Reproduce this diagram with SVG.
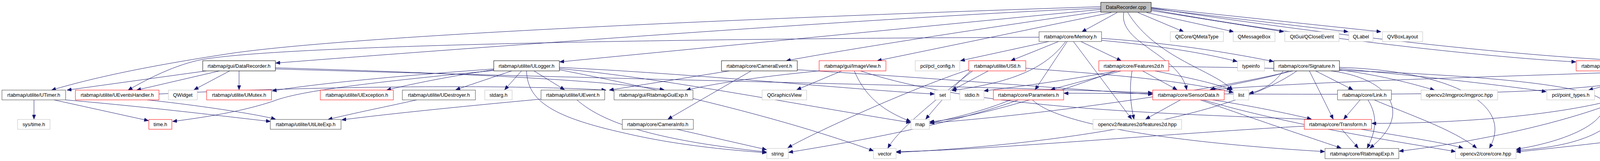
<svg xmlns="http://www.w3.org/2000/svg" width="4788" height="411" viewBox="0 0 4788 411">
<style>
rect{fill:#fff;stroke-width:1}
.n rect{stroke:#000}
.d rect{stroke:#404040}
.g rect{stroke:#bfbfbf}
.r rect{stroke:#ff0000}
.root rect{fill:#bfbfbf;stroke:#000}
text{font-family:"Liberation Sans",Arial,sans-serif;font-size:12.8px;fill:#000;text-anchor:middle}
#edges path{fill:none;stroke:#191970;stroke-width:1;marker-end:url(#ah)}
</style>
<defs>
<marker id="ah" markerUnits="userSpaceOnUse" markerWidth="12" markerHeight="9" refX="11" refY="4.5" orient="auto">
<path d="M0,0 L11,4.5 L0,9 z" fill="#191970" stroke="#191970" stroke-width="1"/>
</marker>
</defs>
<rect x="0" y="0" width="4788" height="411" style="fill:#fff;stroke:none"/>
<g id="edges">
<!-- DataRecorder.cpp -->
<path d="M2818,21 C2300,40 1000,138 706,161"/>
<path d="M2818,17 C2300,34 1000,80 600,135 C400,165 250,195 132,230"/>
<path d="M2818,24 L1433,158"/>
<path d="M2818,29 C2600,60 2200,120 2013,155"/>
<path d="M2845,32 L2246,155"/>
<path d="M2860,32 L2770,81"/>
<path d="M2913,32 L3030,81"/>
<path d="M2935,32 L3158,81"/>
<path d="M2947,27 L3286,81"/>
<path d="M2947,22 L3451,81"/>
<path d="M2947,19 L3535,81"/>
<path d="M2877,32 C2862,110 3020,140 3038,229"/>
<path d="M2887,32 C2960,150 3110,180 3155,230"/>
<path d="M2947,24 C3300,90 3800,146 4034,158"/>
<path d="M2947,20 C3400,90 3900,146 4225,158"/>
<!-- Memory.h -->
<path d="M2685,106 L2459,155"/>
<path d="M2710,106 L2588,155"/>
<path d="M2728,106 C2680,170 2600,210 2437,231"/>
<path d="M2732,106 L2650,229"/>
<path d="M2767,106 L2870,155"/>
<path d="M2748,106 L2897,304"/>
<path d="M2820,103 C3000,120 3100,140 3167,157"/>
<path d="M2820,98 C3000,110 3150,135 3260,157"/>
<path d="M2660,95 C1500,100 700,120 517,152 C450,165 380,200 328,230"/>
<!-- Signature.h -->
<path d="M3368,181 L3463,229"/>
<path d="M3352,181 L3413,304"/>
<path d="M3407,181 C3560,200 3620,290 3507,378"/>
<path d="M3300,181 C3250,200 3150,215 3098,229"/>
<path d="M3285,181 C3260,215 3230,232 3198,238"/>
<path d="M3429,172 C3700,180 3880,260 3813,378"/>
<path d="M3429,178 C3550,195 3620,215 3672,230"/>
<path d="M3429,175 C3700,200 3900,225 3958,234"/>
<path d="M3310,181 C3100,230 2700,290 2381,314"/>
<path d="M3320,181 C3150,300 2700,370 2295,389"/>
<!-- Link.h -->
<path d="M3482,255 L3440,304"/>
<path d="M3502,255 C3530,300 3520,340 3500,378"/>
<path d="M3518,255 C3600,290 3720,330 3780,378"/>
<!-- Transform.h -->
<path d="M3435,330 L3477,378"/>
<path d="M3485,330 C3600,350 3700,365 3745,378"/>
<path d="M3339,322 C3000,340 2500,385 2295,387"/>
<!-- SensorData.h -->
<path d="M3022,255 L2933,304"/>
<path d="M3073,255 C3200,300 3350,350 3433,378"/>
<path d="M3080,255 C3300,320 3600,365 3726,387"/>
<path d="M3105,255 C3200,270 3300,290 3357,304"/>
<!-- Features2d.h -->
<path d="M2925,181 L3013,229"/>
<path d="M2898,181 C2890,230 2895,270 2903,304"/>
<path d="M2957,181 C3050,200 3120,215 3152,230"/>
<path d="M2860,181 C2700,210 2600,222 2519,232"/>
<path d="M2870,181 C2800,200 2740,215 2690,229"/>
<path d="M2992,170 C3500,175 4110,200 4108,267 C4105,320 4000,362 3882,381"/>
<path d="M2855,181 C2700,240 2500,300 2380,311"/>
<!-- Parameters.h -->
<path d="M2587,255 C2500,290 2420,305 2380,315"/>
<path d="M2607,255 C2400,330 2100,375 2019,389"/>
<path d="M2643,255 C2720,330 3100,370 3391,387"/>
<!-- UStl.h -->
<path d="M2530,181 L2438,230"/>
<path d="M2626,174 C2800,188 3000,200 3157,236"/>
<path d="M2485,181 C2440,220 2390,280 2370,304"/>
<path d="M2490,181 C2400,250 2300,330 2273,378"/>
<path d="M2480,178 C2350,220 2100,330 2017,377"/>
<!-- util3d.h -->
<path d="M4253,181 L4067,230"/>
<path d="M4318,181 L4393,230"/>
<path d="M4340,181 L4512,230"/>
<path d="M4360,181 L4633,230"/>
<path d="M4371,171 C4600,175 4790,210 4782,243 C4775,280 4300,345 3882,388"/>
<path d="M4230,181 C3900,195 3400,205 3100,229"/>
<path d="M4293,181 C4200,280 3800,315 3512,315"/>
<path d="M4278,181 C4100,255 3500,240 2724,238"/>
<path d="M4288,181 C4150,290 3800,360 3582,386"/>
<!-- UCv2Qt.h -->
<path d="M4125,181 C4200,300 4100,370 3882,384"/>
<!-- ULogger.h -->
<path d="M1335,181 L1292,229"/>
<path d="M1367,181 L1445,229"/>
<path d="M1264,176 C1000,195 800,215 697,232"/>
<path d="M1310,181 L1167,229"/>
<path d="M1264,178 C1150,195 1050,215 990,230"/>
<path d="M1264,180 C900,215 760,235 700,258 C620,285 520,300 442,310"/>
<path d="M1348,181 C1350,260 1420,300 1600,340 C1750,375 1900,385 1962,390"/>
<path d="M1432,175 C1700,200 2000,260 2331,313"/>
<path d="M1432,178 C1700,230 2000,300 2236,385"/>
<path d="M1432,172 C1800,190 2200,230 2392,240"/>
<!-- UEvent.h -->
<path d="M1385,253 C1200,270 1000,290 875,306"/>
<path d="M1477,255 C1550,320 1700,360 1962,388"/>
<!-- UDestroyer / UTimer / UEventsHandler -->
<path d="M1067,255 C1000,270 900,290 840,305"/>
<path d="M168,255 C400,275 600,300 692,310"/>
<path d="M138,255 L380,308"/>
<path d="M87,255 L87,304"/>
<path d="M377,255 C500,268 650,290 705,304"/>
<path d="M407,240 C800,220 1300,215 1551,230"/>
<!-- DataRecorder.h -->
<path d="M528,181 L172,230"/>
<path d="M562,181 L350,230"/>
<path d="M588,181 L497,229"/>
<path d="M612,181 L612,229"/>
<path d="M705,173 C1100,185 1500,200 1700,229"/>
<path d="M705,176 C1500,200 2500,220 2950,237"/>
<!-- CameraEvent.h / CameraInfo.h -->
<path d="M1923,181 L1710,304"/>
<path d="M1867,181 L1560,230"/>
<path d="M2041,178 C2400,200 2700,225 2950,241"/>
<path d="M1733,330 L1962,382"/>
<!-- ImageView.h -->
<path d="M2155,181 L2040,229"/>
<path d="M2187,181 C2220,260 2280,290 2331,310"/>
<path d="M2097,181 C1900,200 1800,220 1757,230"/>
<path d="M2203,181 C2500,280 3000,290 3357,305"/>
</g>
<g id="n-cpp" class="root"><rect x="2818" y="6" width="129" height="25"/><text x="2882.5" y="23">DataRecorder.cpp</text></g>
<g id="n-memory" class="d"><rect x="2660" y="81" width="160" height="25"/><text x="2740" y="98">rtabmap/core/Memory.h</text></g>
<g id="n-qmetatype" class="g"><rect x="2996" y="81" width="136" height="25"/><text x="3064" y="98">QtCore/QMetaType</text></g>
<g id="n-qmessagebox" class="g"><rect x="3157" y="81" width="107" height="25"/><text x="3210.5" y="98">QMessageBox</text></g>
<g id="n-qcloseevent" class="g"><rect x="3289" y="81" width="139" height="25"/><text x="3358.5" y="98">QtGui/QCloseEvent</text></g>
<g id="n-qlabel" class="g"><rect x="3453" y="81" width="62" height="25"/><text x="3484" y="98">QLabel</text></g>
<g id="n-qvboxlayout" class="g"><rect x="3539" y="81" width="103" height="25"/><text x="3590.5" y="98">QVBoxLayout</text></g>
<g id="n-datarecorderh" class="n"><rect x="519" y="155" width="186" height="26"/><text x="612" y="172.5">rtabmap/gui/DataRecorder.h</text></g>
<g id="n-ulogger" class="n"><rect x="1264" y="155" width="168" height="26"/><text x="1348" y="172.5">rtabmap/utilite/ULogger.h</text></g>
<g id="n-cameraevent" class="n"><rect x="1847" y="155" width="194" height="26"/><text x="1944" y="172.5">rtabmap/core/CameraEvent.h</text></g>
<g id="n-imageview" class="r"><rect x="2097" y="155" width="171" height="26"/><text x="2182.5" y="172.5">rtabmap/gui/ImageView.h</text></g>
<g id="n-pclconfig" class="g"><rect x="2343" y="155" width="114" height="26"/><text x="2400" y="172.5">pcl/pcl_config.h</text></g>
<g id="n-ustl" class="r"><rect x="2480" y="155" width="146" height="26"/><text x="2553" y="172.5">rtabmap/utilite/UStl.h</text></g>
<g id="n-features2d" class="r"><rect x="2813" y="155" width="179" height="26"/><text x="2902.5" y="172.5">rtabmap/core/Features2d.h</text></g>
<g id="n-typeinfo" class="g"><rect x="3168" y="155" width="69" height="26"/><text x="3202.5" y="172.5">typeinfo</text></g>
<g id="n-signature" class="n"><rect x="3261" y="155" width="168" height="26"/><text x="3345" y="172.5">rtabmap/core/Signature.h</text></g>
<g id="n-ucv2qt" class="r"><rect x="4035" y="155" width="167" height="26"/><text x="4118.5" y="172.5">rtabmap/utilite/UCv2Qt.h</text></g>
<g id="n-util3d" class="n"><rect x="4226" y="155" width="145" height="26"/><text x="4298.5" y="172.5">rtabmap/core/util3d.h</text></g>
<g id="n-utimer" class="d"><rect x="5" y="230" width="163" height="25"/><text x="86.5" y="247">rtabmap/utilite/UTimer.h</text></g>
<g id="n-ueventshandler" class="r"><rect x="193" y="230" width="214" height="25"/><text x="300" y="247">rtabmap/utilite/UEventsHandler.h</text></g>
<g id="n-qwidget" class="g"><rect x="431" y="230" width="74" height="25"/><text x="468" y="247">QWidget</text></g>
<g id="n-umutex" class="r"><rect x="529" y="230" width="166" height="25"/><text x="612" y="247">rtabmap/utilite/UMutex.h</text></g>
<g id="n-uexception" class="r"><rect x="820" y="230" width="187" height="25"/><text x="913.5" y="247">rtabmap/utilite/UException.h</text></g>
<g id="n-udestroyer" class="d"><rect x="1030" y="230" width="187" height="25"/><text x="1123.5" y="247">rtabmap/utilite/UDestroyer.h</text></g>
<g id="n-stdarg" class="g"><rect x="1241" y="230" width="70" height="25"/><text x="1276" y="247">stdarg.h</text></g>
<g id="n-uevent" class="d"><rect x="1385" y="230" width="163" height="25"/><text x="1466.5" y="247">rtabmap/utilite/UEvent.h</text></g>
<g id="n-rtabmapguiexp" class="d"><rect x="1572" y="230" width="202" height="25"/><text x="1673" y="247">rtabmap/gui/RtabmapGuiExp.h</text></g>
<g id="n-qgraphicsview" class="g"><rect x="1951" y="230" width="114" height="25"/><text x="2008" y="247">QGraphicsView</text></g>
<g id="n-set" class="g"><rect x="2393" y="230" width="40" height="25"/><text x="2413" y="247">set</text></g>
<g id="n-stdio" class="g"><rect x="2457" y="230" width="62" height="25"/><text x="2488" y="247">stdio.h</text></g>
<g id="n-parameters" class="r"><rect x="2543" y="230" width="180" height="25"/><text x="2633" y="247">rtabmap/core/Parameters.h</text></g>
<g id="n-sensordata" class="r"><rect x="2951" y="230" width="183" height="25"/><text x="3042.5" y="247">rtabmap/core/SensorData.h</text></g>
<g id="n-list" class="g"><rect x="3158" y="230" width="39" height="25"/><text x="3177.5" y="247">list</text></g>
<g id="n-link" class="d"><rect x="3424" y="230" width="138" height="25"/><text x="3493" y="247">rtabmap/core/Link.h</text></g>
<g id="n-imgproc" class="g"><rect x="3638" y="230" width="196" height="25"/><text x="3736" y="247">opencv2/imgproc/imgproc.hpp</text></g>
<g id="n-pointtypes" class="g"><rect x="3960" y="230" width="122" height="25"/><text x="4021" y="247">pcl/point_types.h</text></g>
<g id="n-pointcloud" class="g"><rect x="4360" y="230" width="120" height="25"/><text x="4420" y="247">pcl/point_cloud.h</text></g>
<g id="n-pclbase" class="g"><rect x="4504" y="230" width="107" height="25"/><text x="4557.5" y="247">pcl/pcl_base.h</text></g>
<g id="n-texturemesh" class="g"><rect x="4634" y="230" width="132" height="25"/><text x="4700" y="247">pcl/TextureMesh.h</text></g>
<g id="n-systime" class="g"><rect x="45" y="305" width="83" height="25"/><text x="86.5" y="322">sys/time.h</text></g>
<g id="n-time" class="r"><rect x="381" y="305" width="59" height="25"/><text x="410.5" y="322">time.h</text></g>
<g id="n-utiliteexp" class="d"><rect x="692" y="305" width="181" height="25"/><text x="782.5" y="322">rtabmap/utilite/UtiLiteExp.h</text></g>
<g id="n-camerainfo" class="d"><rect x="1593" y="305" width="182" height="25"/><text x="1684" y="322">rtabmap/core/CameraInfo.h</text></g>
<g id="n-map" class="g"><rect x="2332" y="305" width="47" height="25"/><text x="2355.5" y="322">map</text></g>
<g id="n-features2dhpp" class="g"><rect x="2798" y="305" width="227" height="25"/><text x="2911.5" y="322">opencv2/features2d/features2d.hpp</text></g>
<g id="n-transform" class="r"><rect x="3339" y="305" width="172" height="25"/><text x="3425" y="322">rtabmap/core/Transform.h</text></g>
<g id="n-string" class="g"><rect x="1963" y="379" width="55" height="26"/><text x="1990.5" y="396.5">string</text></g>
<g id="n-vector" class="g"><rect x="2236" y="379" width="58" height="26"/><text x="2265" y="396.5">vector</text></g>
<g id="n-rtabmapexp" class="d"><rect x="3392" y="379" width="189" height="26"/><text x="3486.5" y="396.5">rtabmap/core/RtabmapExp.h</text></g>
<g id="n-corehpp" class="g"><rect x="3726" y="379" width="155" height="26"/><text x="3803.5" y="396.5">opencv2/core/core.hpp</text></g>
</svg>
